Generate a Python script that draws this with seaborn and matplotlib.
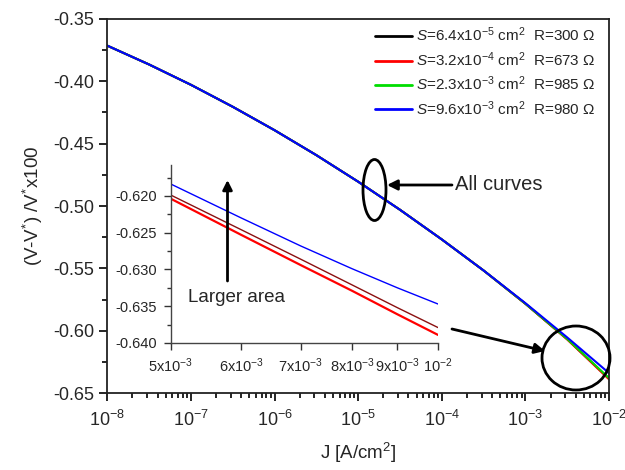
import matplotlib
matplotlib.use("Agg")
import matplotlib.pyplot as plt
from matplotlib.patches import Ellipse
from matplotlib.ticker import MultipleLocator, FixedLocator, NullLocator, NullFormatter
import seaborn as sns
import pandas as pd

# ---------------- data ----------------
J_main = [1e-8, 3.16e-8, 1e-7, 3.16e-7, 1e-6, 3.16e-6, 1e-5, 3.16e-5,
          1e-4, 3.16e-4, 1e-3, 3.16e-3, 1e-2]
v_blue = [-0.3714, -0.3865, -0.4028, -0.4204, -0.4392, -0.4592, -0.4805,
          -0.5030, -0.5268, -0.5517, -0.5779, -0.6054, -0.6340]
v_green = [-0.3714, -0.3865, -0.4028, -0.4204, -0.4392, -0.4592, -0.4805,
           -0.5030, -0.5268, -0.5517, -0.5783, -0.6066, -0.6380]
v_red = [-0.3714, -0.3865, -0.4028, -0.4204, -0.4392, -0.4592, -0.4805,
         -0.5030, -0.5268, -0.5517, -0.5784, -0.6070, -0.6390]
v_black = [-0.3714, -0.3865, -0.4028, -0.4204, -0.4392, -0.4592, -0.4805,
           -0.5030, -0.5268, -0.5517, -0.5784, -0.6068, -0.6385]
labels = [r'$S$=6.4x10$^{-5}$ cm$^{2}$  R=300 Ω',
          r'$S$=3.2x10$^{-4}$ cm$^{2}$  R=673 Ω',
          r'$S$=2.3x10$^{-3}$ cm$^{2}$  R=985 Ω',
          r'$S$=9.6x10$^{-3}$ cm$^{2}$  R=980 Ω']
colors = ['black', 'red', '#00dd00', 'blue']

J_inset = [5e-3, 6e-3, 7e-3, 8e-3, 9e-3, 1e-2]
inset_blue = [-0.6184, -0.6230, -0.6268, -0.6299, -0.6325, -0.6347]
inset_darkred = [-0.6199, -0.6246, -0.6286, -0.6321, -0.6352, -0.6379]
inset_red = [-0.6204, -0.6253, -0.6294, -0.6329, -0.6361, -0.6389]

main_xticks = [1e-8, 1e-7, 1e-6, 1e-5, 1e-4, 1e-3, 1e-2]
main_yticks = [-0.65, -0.60, -0.55, -0.50, -0.45, -0.40, -0.35]
inset_xticks = [5e-3, 6e-3, 7e-3, 8e-3, 9e-3, 1e-2]
inset_xticklabels = ['5x10$^{-3}$', '6x10$^{-3}$', '7x10$^{-3}$',
                     '8x10$^{-3}$', '9x10$^{-3}$', '10$^{-2}$']
inset_yticks = [-0.640, -0.635, -0.630, -0.625, -0.620]

# ---------------- style ----------------
sns.set_style("ticks")
plt.rcParams['font.family'] = ['Liberation Sans', 'DejaVu Sans']
plt.rcParams['mathtext.fontset'] = 'custom'
plt.rcParams['mathtext.rm'] = 'Liberation Sans'
plt.rcParams['mathtext.it'] = 'Liberation Sans:italic'
plt.rcParams['mathtext.bf'] = 'Liberation Sans:bold'

fig = plt.figure(figsize=(6.25, 4.7), dpi=100)
ax = fig.add_axes([0.1717, 0.1638, 0.8027, 0.7958])

series = [v_black, v_red, v_green, v_blue]
for vals, lab, col in zip(series, labels, colors):
    df = pd.DataFrame({'J': J_main, 'v': vals})
    sns.lineplot(data=df, x='J', y='v', ax=ax, color=col, lw=1.5,
                 label=lab, sort=False, estimator=None)

ax.set_xscale('log')
ax.set_xlim(1e-8, 1e-2)
ax.set_ylim(-0.65, -0.35)
ax.set_xticks(main_xticks)
ax.set_yticks(main_yticks)
ax.set_yticklabels([f'{t:.2f}' for t in main_yticks])
ax.yaxis.set_minor_locator(MultipleLocator(0.025))
ax.tick_params(axis='both', which='major', direction='out', length=6, width=1.2,
               labelsize=13, color='black')
ax.tick_params(axis='both', which='minor', direction='out', length=3.5, width=1.2,
               color='black')
ax.tick_params(axis='x', which='major', pad=6)
for side in ['left', 'bottom', 'top', 'right']:
    ax.spines[side].set_linewidth(1.3)
    ax.spines[side].set_color('#222222')
ax.set_xlabel(r'J [A/cm$^{2}$]', fontsize=13.5, labelpad=8)
ax.set_ylabel(r'(V-V$^{*}$) /V$^{*}$x100', fontsize=13.5, labelpad=6)

leg = ax.legend(loc='upper right', bbox_to_anchor=(0.962, 0.958),
                bbox_transform=fig.transFigure, frameon=False, fontsize=11,
                handlelength=2.4, handletextpad=0.25, labelspacing=0.38,
                borderaxespad=0)
for line in leg.get_lines():
    line.set_linewidth(2)

# annotations on main axes (figure pixel coordinates converted to fraction)
W, H = 625.0, 470.0
def fx(px):
    return px / W
def fy(py):
    return 1 - py / H

ell1 = Ellipse((fx(374.5), fy(190)), 23 / W, 61 / H, transform=fig.transFigure,
               fill=False, lw=2, ec='black', zorder=10)
fig.add_artist(ell1)
ax.annotate('', xy=(fx(387), fy(185)), xytext=(fx(452), fy(185)),
            xycoords='figure fraction', textcoords='figure fraction',
            arrowprops=dict(arrowstyle='-|>', lw=2, color='black',
                            mutation_scale=15, shrinkA=0, shrinkB=0))
fig.text(fx(455), fy(185), 'All curves', fontsize=14.5, va='center', ha='left')

ell2 = Ellipse((fx(576), fy(358)), 68 / W, 64 / H, transform=fig.transFigure,
               fill=False, lw=2, ec='black', zorder=10)
fig.add_artist(ell2)
ax.annotate('', xy=(fx(545), fy(351)), xytext=(fx(452), fy(329)),
            xycoords='figure fraction', textcoords='figure fraction',
            arrowprops=dict(arrowstyle='-|>', lw=2, color='black',
                            mutation_scale=15, shrinkA=0, shrinkB=0))

# ---------------- inset ----------------
axi = fig.add_axes([171 / W, 1 - 343 / H, 267 / W, 178 / H])
axi.patch.set_alpha(0)
inset_series = [(inset_darkred, '#8b1010', 1.0), (inset_red, 'red', 1.6),
                (inset_blue, 'blue', 1.0)]
for vals, col, lw in inset_series:
    dfi = pd.DataFrame({'J': J_inset, 'v': vals})
    sns.lineplot(data=dfi, x='J', y='v', ax=axi, color=col, lw=lw,
                 sort=False, estimator=None)
axi.set_xscale('log')
axi.set_xlim(5e-3, 1e-2)
axi.set_ylim(-0.640, -0.6158)
axi.xaxis.set_major_locator(FixedLocator(inset_xticks))
axi.xaxis.set_minor_locator(NullLocator())
axi.xaxis.set_minor_formatter(NullFormatter())
axi.set_xticklabels(inset_xticklabels)
axi.set_yticks(inset_yticks)
axi.set_yticklabels([f'{t:.3f}' for t in inset_yticks])
axi.yaxis.set_minor_locator(MultipleLocator(0.0025))
axi.tick_params(axis='both', which='major', direction='out', length=5, width=1,
                labelsize=10.5, color='#333333', pad=5)
axi.tick_params(axis='y', which='minor', direction='out', length=3, width=1,
                color='#333333')
axi.spines['top'].set_visible(False)
axi.spines['right'].set_visible(False)
for side in ['left', 'bottom']:
    axi.spines[side].set_color('#444444')
    axi.spines[side].set_linewidth(1)
axi.set_xlabel('')
axi.set_ylabel('')

# inset annotation: Larger area
axi.annotate('', xy=(fx(227.5), fy(180)), xytext=(fx(227.5), fy(281)),
             xycoords='figure fraction', textcoords='figure fraction',
             arrowprops=dict(arrowstyle='-|>', lw=2, color='black',
                             mutation_scale=14, shrinkA=0, shrinkB=0))
fig.text(fx(188), fy(297), 'Larger area', fontsize=13.5, va='center', ha='left')

fig.savefig('out.png', dpi=100)
